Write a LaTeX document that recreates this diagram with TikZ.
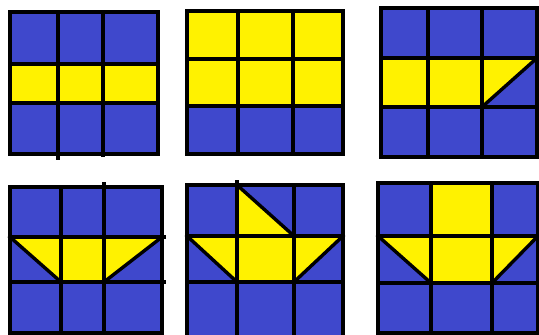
\documentclass[tikz,border=0pt]{standalone}
\definecolor{blueC}{RGB}{63,72,204}
\definecolor{yellowC}{RGB}{255,242,0}
\tikzset{
  bl/.style={fill=blueC},
  yl/.style={fill=yellowC},
  gl/.style={line width=3.4pt, black, line cap=rect, line join=miter}
}
\begin{document}
\begin{tikzpicture}[x=1pt,y=-1pt]
\useasboundingbox (0,0) rectangle (539,335);
\clip (0,0) rectangle (539,335);
\fill[white] (0,0) rectangle (539,335);
% Panel 1
\fill[bl] (10,12) rectangle (158,154);
\fill[yl] (10,64) rectangle (158,103);
\draw[gl] (10,12) rectangle (158,154);
\draw[gl] (58,12) -- (58,158);
\draw[gl] (103,12) -- (103,155);
\draw[gl] (10,64) -- (158,64);
\draw[gl] (10,103) -- (158,103);
% Panel 2
\fill[bl] (187,11) rectangle (343,154);
\fill[yl] (187,11) rectangle (343,106);
\draw[gl] (187,11) rectangle (343,154);
\draw[gl] (238,11) -- (238,154);
\draw[gl] (293,11) -- (293,154);
\draw[gl] (187,59) -- (343,59);
\draw[gl] (187,106) -- (343,106);
% Panel 3
\fill[bl] (381,8) rectangle (537,157);
\fill[yl] (381,58) rectangle (482,107);
\fill[yl] (482,58) -- (537,58) -- (482,107) -- cycle;
\draw[gl] (381,8) rectangle (537,157);
\draw[gl] (428,8) -- (428,157);
\draw[gl] (482,8) -- (482,157);
\draw[gl] (381,58) -- (537,58);
\draw[gl] (381,107) -- (537,107);
\draw[gl] (482,107) -- (537,58);
% Panel 4
\fill[bl] (10,187) rectangle (162,333);
\fill[yl] (10,237) -- (162,237) -- (104,282) -- (61,282) -- cycle;
\draw[gl] (10,187) rectangle (162,333);
\draw[gl] (61,187) -- (61,333);
\draw[gl] (104,184) -- (104,333);
\draw[gl] (10,237) -- (164,237);
\draw[gl] (10,282) -- (164,282);
\draw[gl] (10,237) -- (61,282);
\draw[gl] (162,237) -- (104,282);
% Panel 5
\fill[bl] (187,185) rectangle (343,338);
\fill[yl] (187,236) -- (343,236) -- (294,282) -- (237,282) -- cycle;
\fill[yl] (237,185) -- (294,236) -- (237,236) -- cycle;
\draw[gl] (187,185) rectangle (343,338);
\draw[gl] (237,182) -- (237,338);
\draw[gl] (294,185) -- (294,338);
\draw[gl] (187,236) -- (343,236);
\draw[gl] (187,282) -- (343,282);
\draw[gl] (187,236) -- (237,282);
\draw[gl] (343,236) -- (294,282);
\draw[gl] (237,185) -- (294,236);
% Panel 6
\fill[bl] (378,183) rectangle (538,333);
\fill[yl] (431,183) rectangle (492,236);
\fill[yl] (378,236) -- (538,236) -- (492,283) -- (431,283) -- cycle;
\draw[gl] (378,183) rectangle (538,333);
\draw[gl] (431,183) -- (431,333);
\draw[gl] (492,183) -- (492,333);
\draw[gl] (378,236) -- (538,236);
\draw[gl] (378,283) -- (538,283);
\draw[gl] (378,236) -- (431,283);
\draw[gl] (538,236) -- (492,283);
\end{tikzpicture}
\end{document}
